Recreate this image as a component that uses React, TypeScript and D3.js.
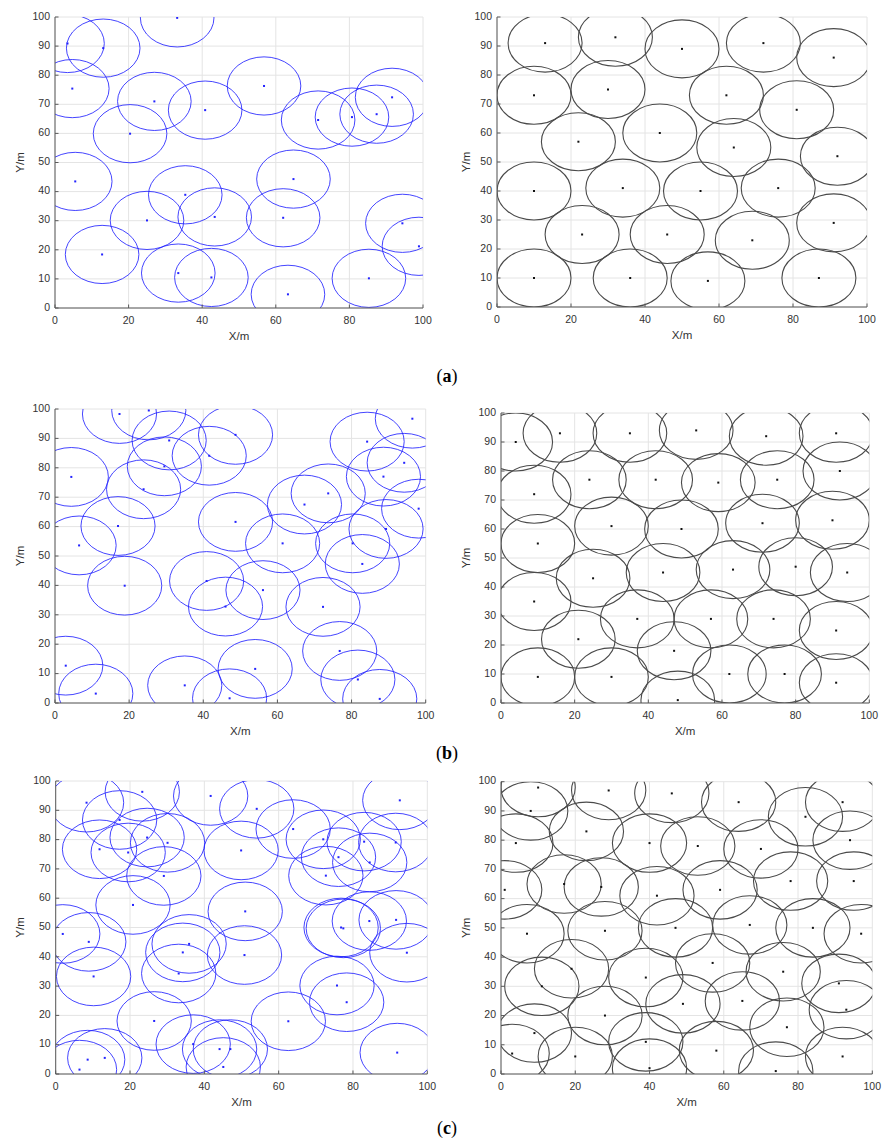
import React from "react";
import * as d3 from "d3";

// Sensing radius of every node, in metres.
const SENSING_RADIUS = 10;

const xTickValues = [0, 20, 40, 60, 80, 100];
const yTickValues = [0, 10, 20, 30, 40, 50, 60, 70, 80, 90, 100];

// (a) 25 nodes: random deployment and optimized deployment.
const randomNodesA: [number, number][] = [
  [3.4, 90.9], [13.1, 89.3], [33.2, 99.7], [4.7, 75.4], [27.0, 71.0],
  [40.8, 68.0], [56.8, 76.3], [20.4, 59.9], [71.5, 64.6], [80.7, 65.6],
  [87.4, 66.6], [91.6, 72.4], [5.5, 43.5], [64.8, 44.3], [35.4, 38.9],
  [25.0, 30.1], [43.4, 31.3], [62.0, 31.0], [12.8, 18.4], [33.5, 12.0],
  [42.5, 10.5], [63.3, 4.7], [85.3, 10.2], [94.4, 29.1], [98.9, 21.2],
];
const optimizedNodesA: [number, number][] = [
  [13, 91], [32, 93], [50, 89], [72, 91], [91, 86],
  [10, 73], [30, 75], [62, 73], [81, 68], [22, 57],
  [44, 60], [64, 55], [92, 52], [10, 40], [34, 41],
  [55, 40], [76, 41], [23, 25], [46, 25], [69, 23],
  [91, 29], [10, 10], [36, 10], [57, 9], [87, 10],
];

// (b) 35 nodes.
const randomNodesB: [number, number][] = [
  [17.4, 98.3], [25.3, 99.5], [30.8, 89.3], [48.7, 91.2], [41.6, 84.1],
  [29.5, 80.5], [23.9, 72.7], [4.4, 76.9], [17.0, 60.2], [6.5, 53.6],
  [18.8, 39.9], [48.7, 61.6], [61.4, 54.3], [67.3, 67.5], [73.7, 71.3],
  [84.2, 88.9], [96.4, 96.7], [94.2, 81.7], [88.6, 77.0], [98.1, 66.1],
  [89.3, 59.2], [80.3, 54.3], [82.9, 47.3], [40.9, 41.5], [46.0, 32.8],
  [56.1, 38.4], [72.3, 32.7], [76.8, 17.7], [81.7, 8.0], [87.6, 1.4],
  [54.0, 11.6], [47.1, 1.6], [35.0, 6.0], [2.9, 12.7], [11.0, 3.2],
];
const optimizedNodesB: [number, number][] = [
  [4, 90], [16, 93], [35, 93], [53, 94], [72, 92], [91, 93],
  [9, 72], [24, 77], [42, 77], [59, 76], [75, 77], [92, 80],
  [10, 55], [30, 61], [49, 60], [71, 62], [90, 63],
  [25, 43], [44, 45], [63, 46], [80, 47], [94, 45],
  [9, 35], [37, 29], [57, 29], [74, 29], [91, 25],
  [21, 22], [47, 18],
  [10, 9], [30, 9], [62, 10], [77, 10], [91, 7], [48, 1],
];

// (c) 45 nodes.
const randomNodesC: [number, number][] = [
  [8.3, 92.6], [23.3, 96.3], [41.7, 94.9], [54.1, 90.5], [63.9, 83.6],
  [92.6, 93.4], [17.2, 86.7], [11.8, 76.7], [19.5, 75.6], [24.6, 80.7],
  [30.1, 78.9], [29.1, 67.6], [20.8, 57.7], [49.9, 76.3], [51.0, 55.5],
  [50.8, 40.6], [34.2, 41.5], [35.9, 44.4], [33.1, 34.3], [1.9, 47.8],
  [8.9, 45.1], [10.2, 33.3], [26.5, 18.1], [37.0, 10.2], [44.1, 8.5],
  [47.0, 8.5], [45.1, 2.4], [13.2, 5.5], [8.6, 4.9], [6.4, 1.5],
  [62.6, 18.0], [75.7, 30.2], [78.3, 24.5], [91.9, 7.3], [76.8, 50.0],
  [77.4, 49.7], [84.4, 52.2], [91.6, 52.6], [94.5, 41.4], [72.7, 67.7],
  [72.0, 80.1], [76.1, 74.0], [83.0, 79.3], [84.5, 72.2], [91.5, 79.0],
];
const optimizedNodesC: [number, number][] = [
  [10, 98], [8, 90], [4, 79], [1, 63], [7, 48], [11, 30], [9, 14], [3, 7],
  [20, 6], [19, 36], [17, 65], [23, 83], [29, 97], [27, 64], [28, 49],
  [28, 20], [40, 79], [42, 61], [39, 33], [39, 11], [40, 2], [46, 96],
  [47, 50], [49, 24], [53, 78], [58, 8], [57, 38], [59, 63], [64, 93],
  [67, 51], [65, 25], [70, 77], [78, 66], [76, 35], [77, 16], [74, 1],
  [82, 88], [84, 50], [92, 93], [94, 80], [95, 66], [97, 48], [91, 31],
  [93, 22], [92, 6],
];

type Frame = { x0: number; x1: number; top: number; bottom: number; yLabelX: number };

type PanelProps = {
  id: string;
  frame: Frame;
  nodes: [number, number][];
  stroke: string;
  strokeWidth: number;
  dot: string;
};

const FONT = "'Liberation Sans', Arial, sans-serif";

function Panel({ id, frame, nodes, stroke, strokeWidth, dot }: PanelProps) {
  const x = d3.scaleLinear().domain([0, 100]).range([frame.x0, frame.x1]);
  const y = d3.scaleLinear().domain([0, 100]).range([frame.bottom, frame.top]);
  const rx = x(SENSING_RADIUS) - x(0);
  const ry = y(0) - y(SENSING_RADIUS);
  const clipId = `clip-${id}`;
  const tick = 3.5;

  return (
    <g>
      <defs>
        <clipPath id={clipId}>
          <rect x={x(0)} y={y(100)} width={x(100) - x(0)} height={y(0) - y(100)} />
        </clipPath>
      </defs>
      <rect x={x(0)} y={y(100)} width={x(100) - x(0)} height={y(0) - y(100)} fill="#fff" />
      {xTickValues.map((t) => (
        <line key={`gx${t}`} x1={x(t)} x2={x(t)} y1={y(0)} y2={y(100)} stroke="#e4e4e4" strokeWidth={1} />
      ))}
      {yTickValues.map((t) => (
        <line key={`gy${t}`} x1={x(0)} x2={x(100)} y1={y(t)} y2={y(t)} stroke="#e4e4e4" strokeWidth={1} />
      ))}
      <g clipPath={`url(#${clipId})`}>
        {nodes.map(([cx, cy], i) => (
          <ellipse
            key={`c${i}`}
            cx={x(cx)}
            cy={y(cy)}
            rx={rx}
            ry={ry}
            fill="none"
            stroke={stroke}
            strokeWidth={strokeWidth}
          />
        ))}
        {nodes.map(([cx, cy], i) => (
          <rect key={`d${i}`} x={x(cx) - 1} y={y(cy) - 1} width={2} height={2} fill={dot} />
        ))}
      </g>
      {/* axes */}
      <line x1={x(0)} x2={x(0)} y1={y(0)} y2={y(100)} stroke="#5a5a5a" strokeWidth={1} />
      <line x1={x(0)} x2={x(100)} y1={y(0)} y2={y(0)} stroke="#5a5a5a" strokeWidth={1} />
      {xTickValues.map((t) => (
        <g key={`tx${t}`}>
          <line x1={x(t)} x2={x(t)} y1={y(0)} y2={y(0) - tick} stroke="#5a5a5a" strokeWidth={1} />
          <text
            x={x(t)}
            y={y(0) + 13}
            textAnchor="middle"
            dominantBaseline="middle"
            fontFamily={FONT}
            fontSize={10.5}
            fill="#333"
          >
            {t}
          </text>
        </g>
      ))}
      {yTickValues.map((t) => (
        <g key={`ty${t}`}>
          <line x1={x(0)} x2={x(0) + tick} y1={y(t)} y2={y(t)} stroke="#5a5a5a" strokeWidth={1} />
          <text
            x={x(0) - 5}
            y={y(t)}
            textAnchor="end"
            dominantBaseline="middle"
            fontFamily={FONT}
            fontSize={10.5}
            fill="#333"
          >
            {t}
          </text>
        </g>
      ))}
      <text
        x={(x(0) + x(100)) / 2}
        y={y(0) + 29}
        textAnchor="middle"
        dominantBaseline="middle"
        fontFamily={FONT}
        fontSize={11.5}
        fill="#333"
      >
        X/m
      </text>
      <text
        transform={`translate(${frame.yLabelX},${(y(0) + y(100)) / 2}) rotate(-90)`}
        textAnchor="middle"
        dominantBaseline="middle"
        fontFamily={FONT}
        fontSize={11.5}
        fill="#333"
      >
        Y/m
      </text>
    </g>
  );
}

const BLUE = "#2323ff";
const GREY = "#4a4a4a";

const rows = [
  {
    label: "a",
    labelY: 378,
    random: randomNodesA,
    optimized: optimizedNodesA,
    left: { x0: 55, x1: 423, top: 17, bottom: 308, yLabelX: 21 },
    right: { x0: 497, x1: 867, top: 17, bottom: 307, yLabelX: 467 },
  },
  {
    label: "b",
    labelY: 755,
    random: randomNodesB,
    optimized: optimizedNodesB,
    left: { x0: 55, x1: 425.7, top: 409, bottom: 703, yLabelX: 21 },
    right: { x0: 501, x1: 869.3, top: 413, bottom: 703, yLabelX: 467 },
  },
  {
    label: "c",
    labelY: 1130,
    random: randomNodesC,
    optimized: optimizedNodesC,
    left: { x0: 55.7, x1: 427.3, top: 781, bottom: 1074, yLabelX: 21 },
    right: { x0: 501, x1: 872.3, top: 781.7, bottom: 1074, yLabelX: 467 },
  },
];

export default function App() {
  return (
    <svg
      width={883}
      height={1142}
      viewBox="0 0 883 1142"
      style={{ position: "absolute", left: 0, top: 0, background: "#fff" }}
    >
      <rect width={883} height={1142} fill="#fff" />
      {rows.map((r) => (
        <g key={r.label}>
          <Panel id={`${r.label}-rand`} frame={r.left} nodes={r.random} stroke={BLUE} strokeWidth={0.85} dot={BLUE} />
          <Panel id={`${r.label}-opt`} frame={r.right} nodes={r.optimized} stroke={GREY} strokeWidth={1.1} dot="#111" />
          <text
            x={447}
            y={r.labelY}
            textAnchor="middle"
            dominantBaseline="middle"
            fontFamily="'Liberation Serif', 'DejaVu Serif', serif"
            fontSize={18}
            fill="#000"
          >
            (<tspan fontWeight="bold">{r.label}</tspan>)
          </text>
        </g>
      ))}
    </svg>
  );
}
